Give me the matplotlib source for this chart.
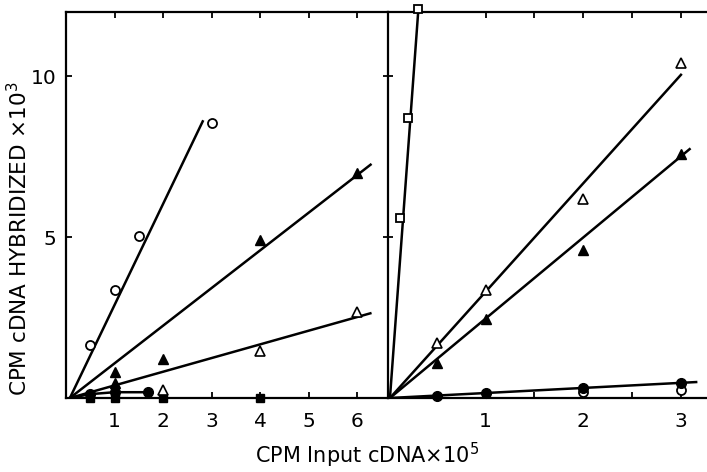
import matplotlib
matplotlib.use('Agg')
import matplotlib.pyplot as plt
import numpy as np

plt.rcParams['font.family'] = ['DejaVu Sans']

# ---- left panel ----
l_open_circ_x = [0.5, 1, 1.5, 3]
l_open_circ_y = [1.65, 3.35, 5.03, 8.55]
l_fill_tri_x = [1, 1, 2, 4, 6]
l_fill_tri_y = [0.47, 0.82, 1.2, 4.9, 7.0]
l_open_tri_x = [2, 4, 6]
l_open_tri_y = [0.25, 1.45, 2.67]
l_fill_circ_x = [0.5, 1, 1.7]
l_fill_circ_y = [0.12, 0.18, 0.18]
l_fill_sq_x = [0.5, 1, 2, 4]
l_fill_sq_y = [0, 0, 0, 0]
# fitted lines through origin: slope and last x
l_slopes = [3.14, 1.17, 0.425]
l_xend = [2.83, 6.3, 6.3]

# ---- right panel ----
r_open_sq_x = [0.12, 0.21, 0.31]
r_open_sq_y = [5.6, 8.7, 12.1]
r_open_tri_x = [0.5, 1, 2, 3]
r_open_tri_y = [1.7, 3.35, 6.2, 10.4]
r_fill_tri_x = [0.5, 1, 2, 3]
r_fill_tri_y = [1.1, 2.45, 4.6, 7.6]
r_fill_circ_x = [0.5, 1, 2, 3]
r_fill_circ_y = [0.06, 0.16, 0.31, 0.47]
r_open_circ_x = [2, 3]
r_open_circ_y = [0.18, 0.25]
r_slopes = [41.5, 3.37, 2.52, 0.158]
r_xend = [0.31, 3.01, 3.1, 3.17]

left_ticks = [1, 2, 3, 4, 5, 6]
right_ticks = [1, 2, 3]
right_minor = [1.5, 2.5]
y_ticks = [5, 10]

W, H = 707, 472
fig = plt.figure(figsize=(W / 100, H / 100), dpi=100)
ax1 = fig.add_axes([66 / W, 1 - 398 / H, (388 - 66) / W, 386 / H])
ax2 = fig.add_axes([388 / W, 1 - 398 / H, (W - 388) / W, 386 / H])

lw = 1.8
ms = dict(clip_on=False, zorder=3, linestyle='none')

# left panel
x0 = 0.08
for s, xe in zip(l_slopes, l_xend):
    xs = np.array([x0, xe])
    ax1.plot(xs, s * (xs - x0), color='black', lw=lw, solid_capstyle='butt')
ax1.plot([x0] + l_fill_circ_x, [0] + l_fill_circ_y, color='black', lw=lw)
ax1.plot(l_fill_sq_x, l_fill_sq_y, 's', color='black', ms=6, **ms)
ax1.plot(l_fill_circ_x, l_fill_circ_y, 'o', color='black', ms=7, **ms)
ax1.plot(l_open_circ_x, l_open_circ_y, 'o', mfc='white', mec='black', ms=6.5, mew=1.3, **ms)
ax1.plot(l_fill_tri_x, l_fill_tri_y, '^', color='black', ms=6.5, **ms)
ax1.plot(l_open_tri_x, l_open_tri_y, '^', mfc='white', mec='black', ms=6.5, mew=1.2, **ms)

# right panel
x0r = 0.02
for s, xe in zip(r_slopes, r_xend):
    xs = np.array([x0r, xe])
    ax2.plot(xs, s * (xs - x0r), color='black', lw=lw, solid_capstyle='butt')
ax2.plot(r_open_circ_x, r_open_circ_y, 'o', mfc='white', mec='black', ms=6.5, mew=1.3, **ms)
ax2.plot(r_fill_circ_x, r_fill_circ_y, 'o', color='black', ms=7, **ms)
ax2.plot(r_open_sq_x, r_open_sq_y, 's', mfc='white', mec='black', ms=5.5, mew=1.3, **ms)
ax2.plot(r_fill_tri_x, r_fill_tri_y, '^', color='black', ms=6.5, **ms)
ax2.plot(r_open_tri_x, r_open_tri_y, '^', mfc='white', mec='black', ms=6.5, mew=1.2, **ms)

ax1.set_xlim(0, (388 - 66) / 48.5)
ax2.set_xlim(0, (W - 388) / 97.6)
for ax in (ax1, ax2):
    ax.set_ylim(0, 12)
    for sp in ax.spines.values():
        sp.set_linewidth(1.6)
    ax.spines['right'].set_visible(False)
    ax.tick_params(axis='x', which='both', direction='in', top=True, bottom=True,
                   length=4, width=1.3, labelsize=14.5, pad=10)

ax1.set_xticks(left_ticks)
ax1.set_xticklabels([str(t) for t in left_ticks])
ax1.set_yticks(y_ticks)
ax1.set_yticklabels([str(t) for t in y_ticks])
ax1.tick_params(axis='y', direction='in', length=4, width=1.3, labelsize=14.5, pad=7)

ax2.set_xticks(right_ticks)
ax2.set_xticklabels([str(t) for t in right_ticks])
ax2.set_xticks(right_minor, minor=True)
ax2.set_yticks(y_ticks)
ax2.tick_params(axis='y', direction='inout', length=7, width=1.3, labelleft=False)

fig.text(255 / W, 1 - 455 / H, 'CPM Input cDNA×10$^5$', fontsize=15,
         ha='left', va='center')
fig.text(19 / W, 1 - 396 / H, 'CPM cDNA HYBRIDIZED ×10$^3$', fontsize=15.5,
         rotation=90, ha='center', va='bottom')

fig.savefig('out.png', dpi=100)
